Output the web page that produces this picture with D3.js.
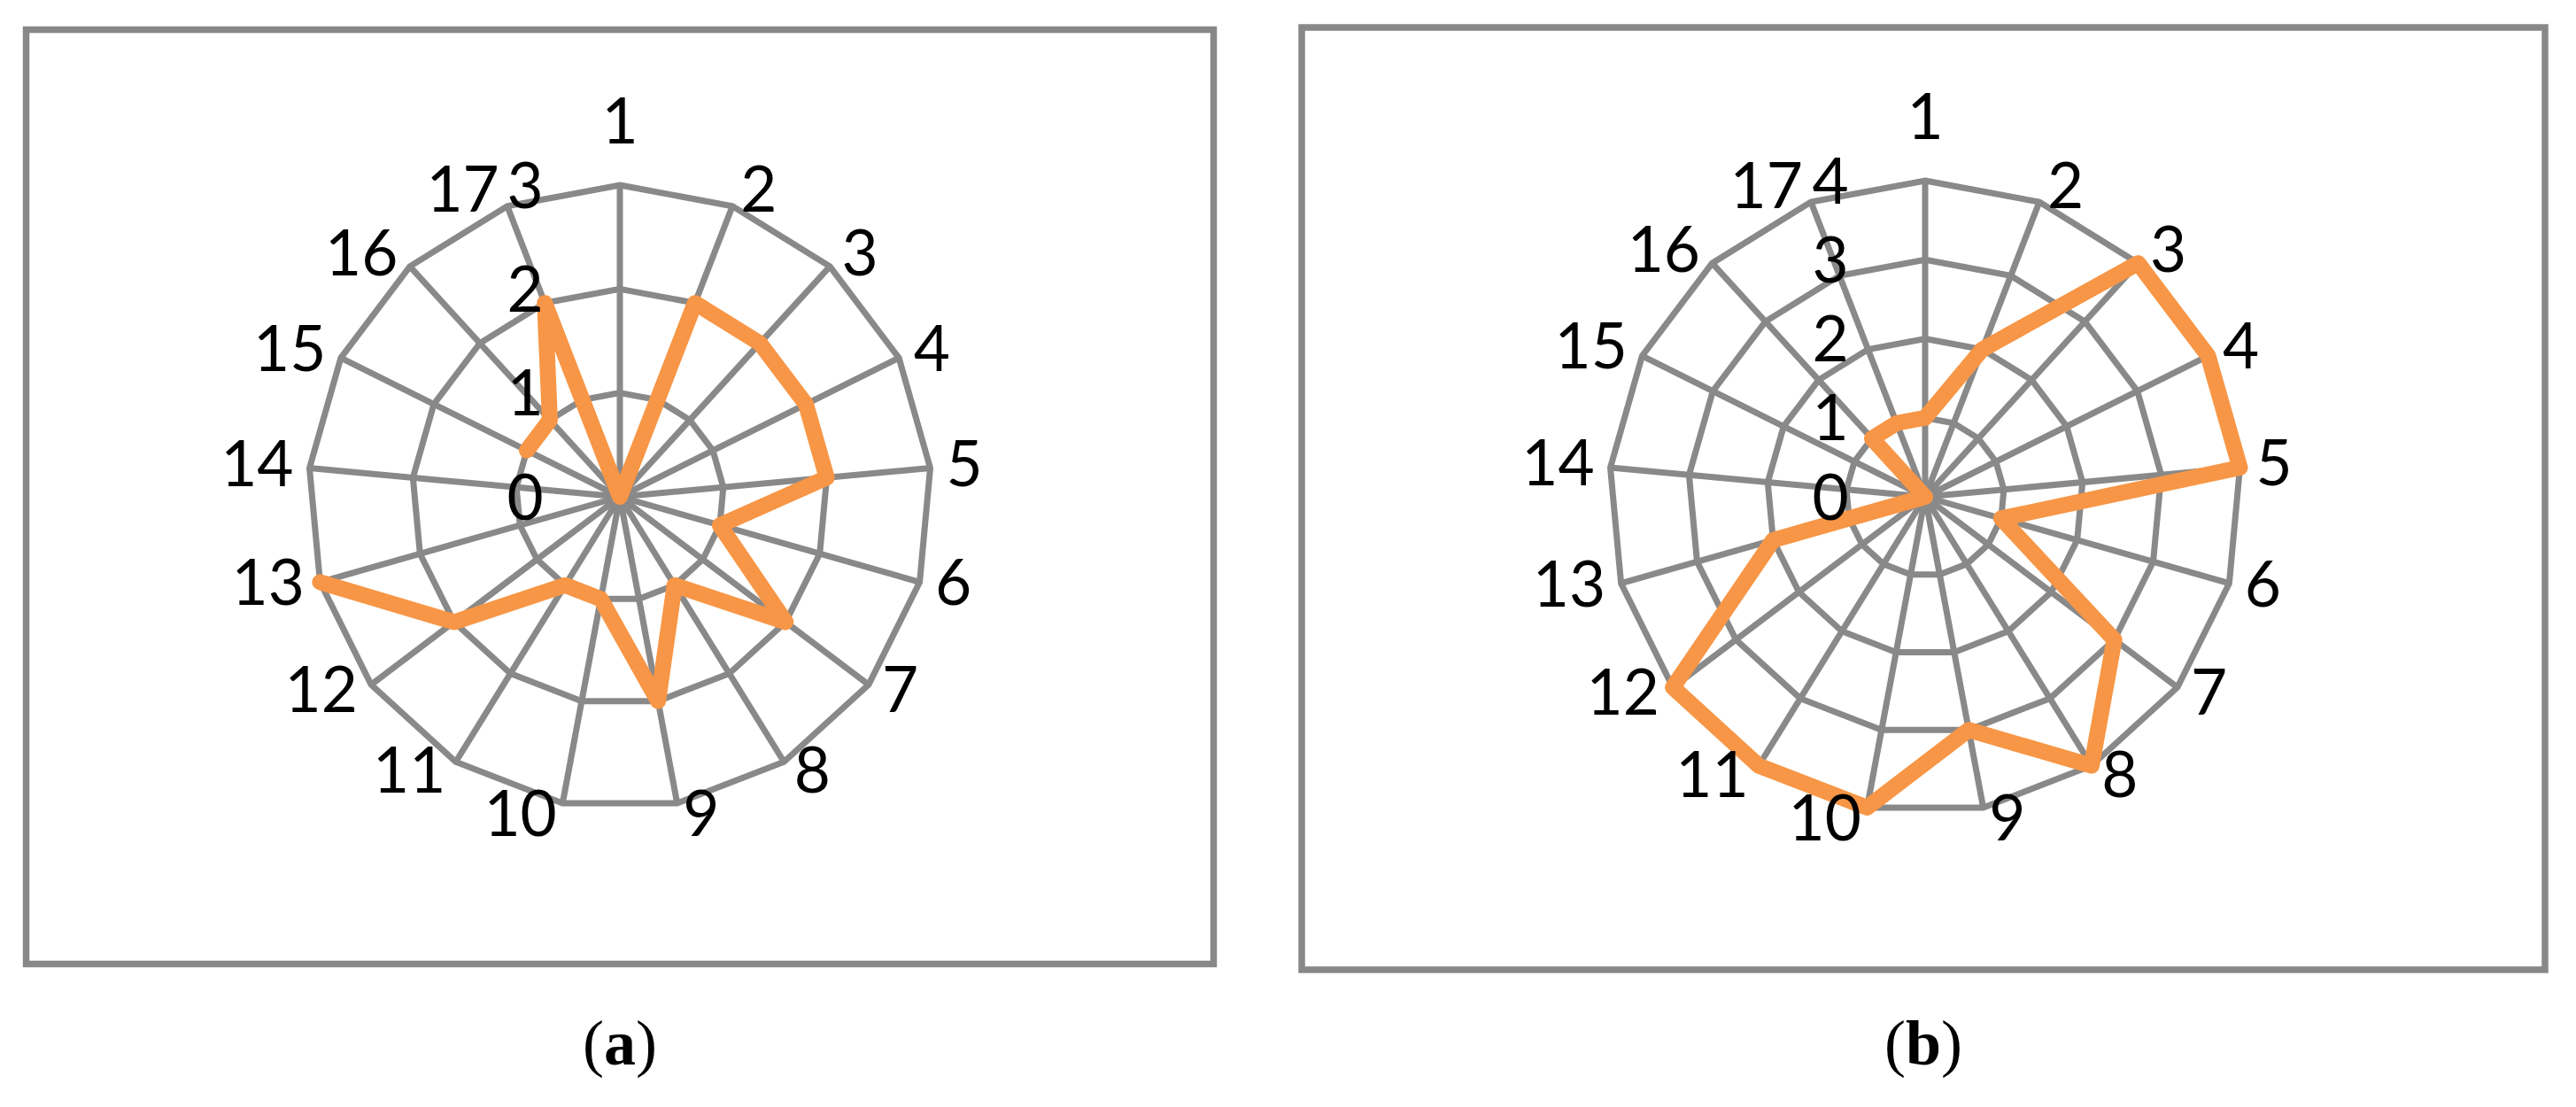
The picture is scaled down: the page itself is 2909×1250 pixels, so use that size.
<!DOCTYPE html>
<html>
<head>
<meta charset="utf-8">
<script src="https://cdn.jsdelivr.net/npm/d3@7"></script>
<style>
  body { margin: 0; background: #fff; }
  svg { display: block; }
</style>
</head>
<body>
<script>
var width = 2909,
    height = 1250;

// chart data
var categories = ["1","2","3","4","5","6","7","8","9","10","11","12","13","14","15","16","17"];
var valuesA = [0, 2, 2, 2, 2, 1, 2, 1, 2, 1, 1, 2, 3, null, 1, 1, 2];   // (a) - cat 14 is blank
var valuesB = [1, 2, 4, 4, 4, 1, 3, 4, 3, 4, 4, 4, 2, 0, 0, 1, 1];      // (b)
var ticksA = [0, 1, 2, 3];
var ticksB = [0, 1, 2, 3, 4];
var captions = ["a", "b"];

var gridColor = "#898989",
    lineColor = "#F79646",
    labelFont = "Lato, 'DejaVu Sans', sans-serif",
    labelSize = 71;

var svg = d3.select("body")
    .append("svg")
    .attr("width", width)
    .attr("height", height);

// panel layout
var panels = [
    { frame: [29.5, 33.5, 1370.5, 1088.5], cx: 700, cy: 561, R: 352, values: valuesA, ticks: ticksA, caption: captions[0] },
    { frame: [1470, 31, 2874, 1095], cx: 2174, cy: 561, R: 357, values: valuesB, ticks: ticksB, caption: captions[1] }
];

panels.forEach(drawPanel);

function drawPanel(p) {
    var n = categories.length;

    // outer frame
    svg.append("rect")
        .attr("x", p.frame[0])
        .attr("y", p.frame[1])
        .attr("width", p.frame[2] - p.frame[0])
        .attr("height", p.frame[3] - p.frame[1])
        .attr("fill", "none")
        .attr("stroke", "#888")
        .attr("stroke-width", 7.5);

    var g = svg.append("g")
        .attr("transform", "translate(" + p.cx + "," + p.cy + ")");

    var maxV = d3.max(p.ticks);
    var r = d3.scaleLinear().domain([0, maxV]).range([0, p.R]);
    var angle = d3.scaleLinear().domain([0, n]).range([0, 2 * Math.PI]);

    // rings
    var ring = d3.lineRadial()
        .angle(function(d, i){ return angle(i); })
        .radius(function(d){ return r(d); })
        .curve(d3.curveLinearClosed);

    p.ticks.filter(function(t){ return t > 0; }).forEach(function(t){
        g.append("path")
            .attr("d", ring(categories.map(function(){ return t; })))
            .attr("fill", "none")
            .attr("stroke", gridColor)
            .attr("stroke-width", 7);
    });

    // spokes
    g.selectAll("line.spoke")
        .data(categories)
        .enter().append("line")
        .attr("class", "spoke")
        .attr("x1", 0).attr("y1", 0)
        .attr("x2", function(d, i){ return d3.pointRadial(angle(i), r(maxV))[0]; })
        .attr("y2", function(d, i){ return d3.pointRadial(angle(i), r(maxV))[1]; })
        .attr("stroke", gridColor)
        .attr("stroke-width", 7);

    // series - if a value is blank, open the line there instead of closing it
    var pts = p.values.map(function(v, i){ return { v: v, i: i }; });
    var blank = -1;
    pts.forEach(function(d, i){ if (d.v == null) blank = i; });
    var series = d3.lineRadial()
        .defined(function(d){ return d.v != null; })
        .angle(function(d){ return angle(d.i); })
        .radius(function(d){ return r(d.v); });
    if (blank >= 0) {
        pts = pts.slice(blank + 1).concat(pts.slice(0, blank + 1));
        series.curve(d3.curveLinear);
    } else {
        series.curve(d3.curveLinearClosed);
    }
    g.append("path")
        .attr("d", series(pts))
        .attr("fill", "none")
        .attr("stroke", lineColor)
        .attr("stroke-width", 18)
        .attr("stroke-linejoin", "round")
        .attr("stroke-linecap", "round");

    // category labels
    var glyphH = labelSize * 0.72;
    g.selectAll("text.cat")
        .data(categories)
        .enter().append("text")
        .attr("class", "cat")
        .attr("font-family", labelFont)
        .attr("font-size", labelSize)
        .attr("text-anchor", "middle")
        .attr("fill", "#000")
        .text(function(d){ return d; })
        .each(function(d, i){
            var a = angle(i),
                sx = Math.sin(a),
                cy = Math.cos(a),
                v = d3.pointRadial(a, r(maxV)),
                w = this.getComputedTextLength(),
                ox, oy;
            if (Math.abs(sx) < 0.05) {
                ox = 0;
                oy = -(47 + glyphH / 2);
            } else {
                ox = (sx > 0 ? 1 : -1) * (w / 2 + 4 + 14 * Math.abs(sx));
                oy = -cy * 16 - 4;
            }
            d3.select(this)
                .attr("x", v[0] + ox)
                .attr("y", v[1] + oy + glyphH / 2);
        });

    // value axis labels, left of the top spoke
    g.selectAll("text.tick")
        .data(p.ticks)
        .enter().append("text")
        .attr("class", "tick")
        .attr("font-family", labelFont)
        .attr("font-size", labelSize)
        .attr("text-anchor", "middle")
        .attr("x", -107)
        .attr("y", function(d){ return -r(d) + glyphH / 2; })
        .text(function(d){ return d; });

    // caption under the frame
    var cap = svg.append("text")
        .attr("x", (p.frame[0] + p.frame[2]) / 2)
        .attr("y", 1202)
        .attr("text-anchor", "middle")
        .attr("font-family", "'Liberation Serif', 'Times New Roman', serif")
        .attr("font-size", 72)
        .attr("fill", "#000");
    cap.append("tspan").text("(");
    cap.append("tspan").attr("font-weight", "bold").text(p.caption);
    cap.append("tspan").text(")");
}
</script>
</body>
</html>
